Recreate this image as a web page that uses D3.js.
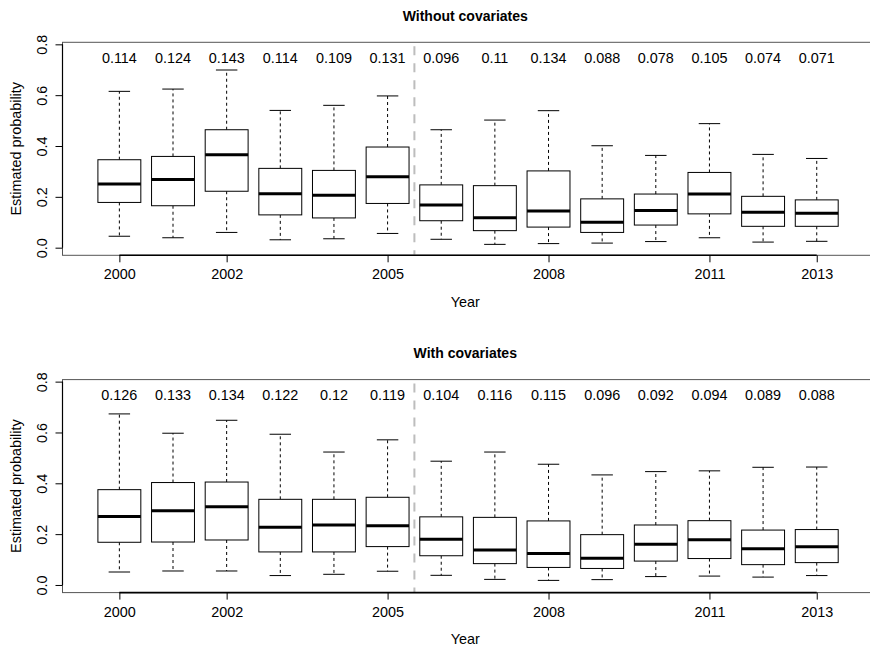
<!DOCTYPE html>
<html>
<head>
<meta charset="utf-8">
<script src="https://cdn.jsdelivr.net/npm/d3@7/dist/d3.min.js"></script>
<style>
  html, body { margin: 0; padding: 0; background: #fff; }
  svg { display: block; font-family: "Liberation Sans", Arial, Helvetica, sans-serif; }
</style>
</head>
<body>
<svg id="chart" width="870" height="649"></svg>
<script>
// ---------------- DATA ----------------
const years = [2000, 2001, 2002, 2003, 2004, 2005, 2006, 2007, 2008, 2009, 2010, 2011, 2012, 2013];
const xTickYears = [2000, 2002, 2005, 2008, 2011, 2013];
const yTicks = [0.0, 0.2, 0.4, 0.6, 0.8];
const yTickLabels = ["0.0", "0.2", "0.4", "0.6", "0.8"];
const splitYear = 2005.5;

const panelTitles = ["Without covariates", "With covariates"];

const topLabels = ["0.114","0.124","0.143","0.114","0.109","0.131","0.096","0.11","0.134","0.088","0.078","0.105","0.074","0.071"];
const topLow    = [0.045,0.039,0.060,0.031,0.035,0.056,0.033,0.013,0.016,0.018,0.024,0.039,0.022,0.025];
const topQ1     = [0.178,0.165,0.222,0.129,0.117,0.174,0.106,0.067,0.081,0.060,0.089,0.133,0.084,0.084];
const topMed    = [0.251,0.268,0.366,0.2125,0.206,0.279,0.168,0.118,0.144,0.100,0.146,0.211,0.139,0.135];
const topQ3     = [0.346,0.359,0.464,0.312,0.304,0.396,0.247,0.244,0.302,0.192,0.211,0.296,0.202,0.188];
const topHigh   = [0.615,0.624,0.699,0.540,0.560,0.597,0.464,0.502,0.539,0.401,0.363,0.488,0.367,0.351];

const botLabels = ["0.126","0.133","0.134","0.122","0.12","0.119","0.104","0.116","0.115","0.096","0.092","0.094","0.089","0.088"];
const botLow    = [0.051,0.055,0.055,0.037,0.042,0.054,0.038,0.022,0.018,0.021,0.033,0.035,0.031,0.037];
const botQ1     = [0.168,0.169,0.177,0.130,0.130,0.151,0.115,0.084,0.069,0.065,0.094,0.104,0.080,0.088];
const botMed    = [0.269,0.292,0.308,0.227,0.236,0.233,0.180,0.138,0.124,0.105,0.160,0.178,0.143,0.150];
const botQ3     = [0.375,0.403,0.405,0.337,0.337,0.345,0.268,0.266,0.252,0.198,0.236,0.253,0.216,0.218];
const botHigh   = [0.673,0.597,0.648,0.593,0.523,0.571,0.487,0.523,0.475,0.433,0.446,0.449,0.463,0.464];

const labelY = 0.75;

// ---------------- LAYOUT ----------------
const svg = d3.select("#chart");
const FS = 14.4;
const left = 62.5, right = 873.6;
const panels = [
  { title: panelTitles[0], labels: topLabels, lo: topLow, q1: topQ1, med: topMed, q3: topQ3, hi: topHigh, top: 42.3, bottom: 255.3 },
  { title: panelTitles[1], labels: botLabels, lo: botLow, q1: botQ1, med: botMed, q3: botQ3, hi: botHigh, top: 379.6, bottom: 592.6 }
];

const x = d3.scaleLinear().domain([1998.94, 2014.06]).range([left, right]);
const boxHalf = (x(2001) - x(2000)) * 0.4;
const capHalf = boxHalf * 0.5;

panels.forEach(p => {
  const y = d3.scaleLinear().domain([-0.03, 0.808]).range([p.bottom, p.top]);
  const g = svg.append("g");

  // frame
  g.append("rect")
    .attr("x", left).attr("y", p.top)
    .attr("width", right - left).attr("height", p.bottom - p.top)
    .attr("fill", "none").attr("stroke", "#555").attr("stroke-width", 1);

  // split line
  g.append("line")
    .attr("x1", x(splitYear)).attr("x2", x(splitYear))
    .attr("y1", p.bottom).attr("y2", p.top)
    .attr("stroke", "#bdbdbd").attr("stroke-width", 2)
    .attr("stroke-dasharray", "9,8").attr("stroke-dashoffset", 4);

  // boxes
  const data = years.map((yr, i) => ({ yr, lo: p.lo[i], q1: p.q1[i], med: p.med[i], q3: p.q3[i], hi: p.hi[i], label: p.labels[i] }));
  const bg = g.selectAll("g.box").data(data).enter().append("g").attr("class", "box");

  // whiskers (dashed)
  bg.append("line")
    .attr("x1", d => x(d.yr)).attr("x2", d => x(d.yr))
    .attr("y1", d => y(d.q3)).attr("y2", d => y(d.hi))
    .attr("stroke", "#000").attr("stroke-width", 1).attr("stroke-dasharray", "3,3");
  bg.append("line")
    .attr("x1", d => x(d.yr)).attr("x2", d => x(d.yr))
    .attr("y1", d => y(d.q1)).attr("y2", d => y(d.lo))
    .attr("stroke", "#000").attr("stroke-width", 1).attr("stroke-dasharray", "3,3");
  // caps
  bg.append("line")
    .attr("x1", d => x(d.yr) - capHalf).attr("x2", d => x(d.yr) + capHalf)
    .attr("y1", d => y(d.hi)).attr("y2", d => y(d.hi))
    .attr("stroke", "#000").attr("stroke-width", 1);
  bg.append("line")
    .attr("x1", d => x(d.yr) - capHalf).attr("x2", d => x(d.yr) + capHalf)
    .attr("y1", d => y(d.lo)).attr("y2", d => y(d.lo))
    .attr("stroke", "#000").attr("stroke-width", 1);
  // box
  bg.append("rect")
    .attr("x", d => x(d.yr) - boxHalf).attr("width", 2 * boxHalf)
    .attr("y", d => y(d.q3)).attr("height", d => y(d.q1) - y(d.q3))
    .attr("fill", "#fff").attr("stroke", "#000").attr("stroke-width", 1);
  // median
  bg.append("line")
    .attr("x1", d => x(d.yr) - boxHalf).attr("x2", d => x(d.yr) + boxHalf)
    .attr("y1", d => y(d.med)).attr("y2", d => y(d.med))
    .attr("stroke", "#000").attr("stroke-width", 3);
  // top labels
  bg.append("text")
    .attr("x", d => x(d.yr)).attr("y", y(labelY) + 6)
    .attr("text-anchor", "middle").attr("font-size", FS).attr("fill", "#000")
    .text(d => d.label);

  // x axis
  const xa = g.append("g").attr("transform", `translate(0,${p.bottom})`)
    .call(d3.axisBottom(x).tickValues(xTickYears).tickFormat(d3.format("d")).tickSize(7).tickSizeOuter(0));
  xa.select(".domain").remove();
  xa.selectAll("line").attr("stroke", "#000");
  xa.selectAll("text").attr("y", 24).attr("dy", null).attr("font-size", FS).attr("fill", "#000")
    .attr("font-family", "Liberation Sans, Arial, sans-serif");
  g.append("line")
    .attr("x1", x(xTickYears[0])).attr("x2", x(xTickYears[xTickYears.length - 1]))
    .attr("y1", p.bottom).attr("y2", p.bottom)
    .attr("stroke", "#000").attr("stroke-width", 1.6);

  // y axis
  const ya = g.append("g").attr("transform", `translate(${left},0)`)
    .call(d3.axisLeft(y).tickValues(yTicks).tickFormat((d, i) => yTickLabels[i]).tickSize(7).tickSizeOuter(0));
  ya.select(".domain").remove();
  ya.selectAll("line").attr("stroke", "#000");
  ya.selectAll("text")
    .attr("x", null).attr("dy", null).attr("y", 0)
    .attr("transform", "translate(-16,0) rotate(-90)")
    .attr("text-anchor", "middle").attr("font-size", FS).attr("fill", "#000")
    .attr("font-family", "Liberation Sans, Arial, sans-serif");
  g.append("line")
    .attr("x1", left).attr("x2", left)
    .attr("y1", y(0)).attr("y2", y(0.8))
    .attr("stroke", "#000").attr("stroke-width", 1.2);

  // labels
  const cx = (left + 868) / 2;
  g.append("text").attr("x", cx).attr("y", p.top - 21.3)
    .attr("text-anchor", "middle").attr("font-size", 14).attr("font-weight", "bold")
    .text(p.title);
  g.append("text").attr("x", cx).attr("y", p.bottom + 51.5)
    .attr("text-anchor", "middle").attr("font-size", FS)
    .text("Year");
  g.append("text")
    .attr("transform", `translate(20.5,${(p.top + p.bottom) / 2}) rotate(-90)`)
    .attr("text-anchor", "middle").attr("font-size", FS)
    .text("Estimated probability");
});
</script>
</body>
</html>
